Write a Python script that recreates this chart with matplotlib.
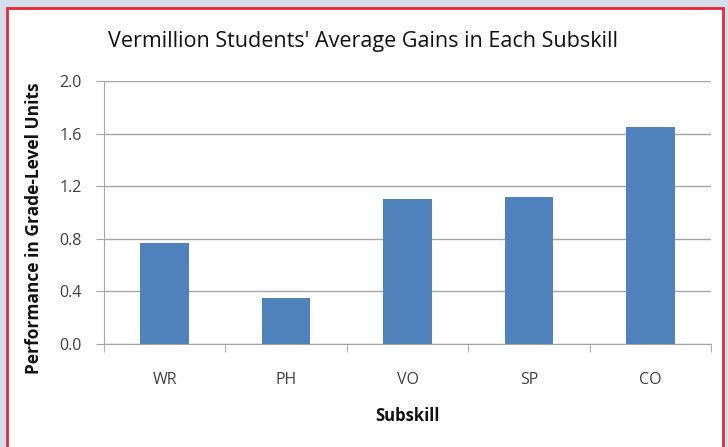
import matplotlib
matplotlib.use("Agg")
import matplotlib.pyplot as plt
from matplotlib.patches import Rectangle

categories = ["WR", "PH", "VO", "SP", "CO"]
values = [0.77, 0.35, 1.10, 1.12, 1.65]
yticks = [0.0, 0.4, 0.8, 1.2, 1.6, 2.0]
ytick_labels = ["0.0", "0.4", "0.8", "1.2", "1.6", "2.0"]

plt.rcParams['font.family'] = ['Open Sans', 'DejaVu Sans']

W, H = 728, 447
fig = plt.figure(figsize=(W/100, H/100), dpi=100)
fig.patch.set_facecolor('#d5deeb')

# white panel with red border
fig.patches.append(Rectangle((7/W, -0.05), (723-7)/W, (H-8)/H + 0.05, transform=fig.transFigure,
                             facecolor='white', edgecolor='#e8283c', linewidth=2, zorder=-5))

ax = fig.add_axes([104/W, 1-344/H, (711-104)/W, (344-81)/H])
ax.set_zorder(2)
ax.set_facecolor('none')
x = range(len(categories))
ax.bar(x, values, width=0.4, color='#4f81bd', zorder=3)
ax.set_xlim(-0.5, len(categories)-0.5)
ax.set_ylim(0, 2.0)
ax.set_yticks(yticks)
ax.set_yticklabels(ytick_labels)
ax.yaxis.grid(True, color='#a6a6a6', linewidth=1)
ax.set_axisbelow(True)
ax.set_xticks([i for i in x])
ax.set_xticklabels(categories)
ax.set_xticks([i - 0.5 for i in range(len(categories)+1)], minor=True)
ax.tick_params(axis='x', which='major', length=0, pad=20, labelsize=11.5, colors='#404040')
ax.tick_params(axis='x', which='minor', length=6, color='#a6a6a6', direction='out')
ax.tick_params(axis='y', length=6, color='#a6a6a6', direction='out', labelsize=11.5, labelcolor='#404040', pad=10)
for s in ['top', 'right']:
    ax.spines[s].set_visible(False)
for s in ['left', 'bottom']:
    ax.spines[s].set_color('#a6a6a6')

fig.text(363/W, 1-42/H, "Vermillion Students' Average Gains in Each Subskill",
         ha='center', va='center', fontsize=15.5, color='#111111')
fig.text(34/W, 1-228/H, "Performance in Grade-Level Units", rotation=90,
         ha='center', va='center', fontsize=12.5, fontweight='bold', color='#111111')
fig.text(408/W, 1-416/H, "Subskill", ha='center', va='center', fontsize=12,
         fontweight='bold', color='#111111')

fig.savefig('out.png', dpi=100, facecolor=fig.get_facecolor())
